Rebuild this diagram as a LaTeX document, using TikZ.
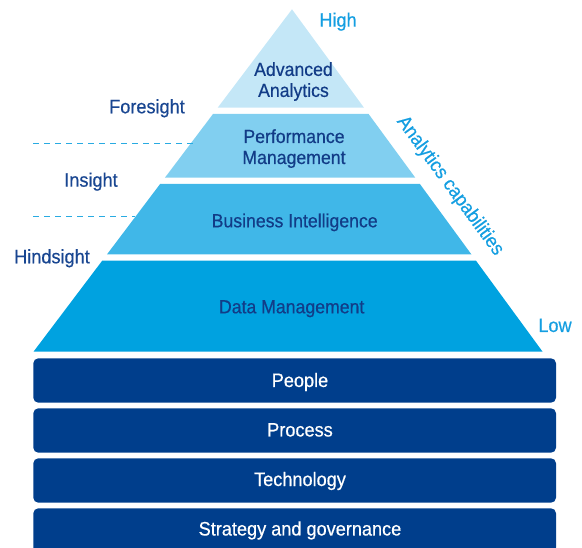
\documentclass[tikz,border=0pt]{standalone}
\usepackage{fontspec}
\setmainfont[FakeStretch=0.93, FakeBold=0.5]{Liberation Sans}
\definecolor{tierA}{RGB}{196,231,247}
\definecolor{tierB}{RGB}{129,207,240}
\definecolor{tierC}{RGB}{64,183,232}
\definecolor{tierD}{RGB}{0,162,224}
\definecolor{barblue}{RGB}{0,62,140}
\definecolor{pyrtext}{RGB}{18,60,135}
\definecolor{sidetext}{RGB}{25,70,145}
\definecolor{lighttext}{RGB}{20,158,225}
\definecolor{dashblue}{RGB}{41,171,226}
\tikzset{
  pyrlabel/.style={text=pyrtext, inner sep=0pt, align=center, font=\fontsize{19}{21}\selectfont},
  sidelabel/.style={text=sidetext, inner sep=0pt, font=\fontsize{19.5}{21}\selectfont},
  levellabel/.style={text=lighttext, inner sep=0pt, font=\fontsize{19.5}{21}\selectfont},
  barlabel/.style={text=white, inner sep=0pt, font=\fontsize{19.5}{21}\selectfont},
  barbox/.style={fill=barblue, rounded corners=5pt},
  divider/.style={draw=dashblue, line width=1.4pt, dash pattern=on 6pt off 5pt},
}
\begin{document}
\begin{tikzpicture}[x=1pt, y=-1pt]
\useasboundingbox (0,0) rectangle (582,548);
\clip (0,0) rectangle (582,548);
% pyramid tiers
\fill[tierA] (292,9.3) -- (364.0,107.7) -- (217.7,107.7) -- cycle;
\fill[tierB] (213.0,114) -- (368.6,114) -- (415.3,177.7) -- (164.9,177.7) -- cycle;
\fill[tierC] (160.1,184) -- (419.9,184) -- (471.5,254.5) -- (106.9,254.5) -- cycle;
\fill[tierD] (102.2,260.7) -- (476.0,260.7) -- (542.6,351.7) -- (33.5,351.7) -- cycle;
% tier labels (base = baseline of the last line)
\node[pyrlabel, anchor=base] (adv) at (293.5,96.9) {Advanced\\Analytics};
\node[pyrlabel, anchor=base] (perf) at (294,164) {Performance\\Management};
\node[pyrlabel, anchor=base] (bi) at (294.7,227.3) {Business Intelligence};
\node[pyrlabel, anchor=base] (dm) at (291.7,313.3) {Data Management};
% dashed dividers
\coordinate (d1a) at (33,143.3);
\coordinate (d1b) at (197,143.3);
\coordinate (d2a) at (33,216.7);
\coordinate (d2b) at (135,216.7);
\draw[divider] (d1a) -- (d1b);
\draw[divider] (d2a) -- (d2b);
% side labels
\node[sidelabel, anchor=base] (fore) at (147,113.3) {Foresight};
\node[sidelabel, anchor=base] (ins) at (91,186.7) {Insight};
\node[sidelabel, anchor=base] (hind) at (52,263.3) {Hindsight};
% level labels
\node[levellabel, anchor=base] (high) at (338,26.7) {High};
\node[levellabel, anchor=base] (low) at (555,332) {Low};
\node[levellabel, rotate=-53.8] (cap) at (450,186) {Analytics capabilities};
% foundation bars
\fill[barbox] (33.3,358.3) rectangle (556,402.7);
\fill[barbox] (33.3,408.3) rectangle (556,452.7);
\fill[barbox] (33.3,458.3) rectangle (556,502.7);
\fill[barbox] (33.3,508.3) rectangle (556,552.7);
\node[barlabel, anchor=base] (people) at (300,387) {People};
\node[barlabel, anchor=base] (process) at (300,436.5) {Process};
\node[barlabel, anchor=base] (tech) at (300,486) {Technology};
\node[barlabel, anchor=base] (strat) at (300,535.5) {Strategy and governance};
\end{tikzpicture}
\end{document}
